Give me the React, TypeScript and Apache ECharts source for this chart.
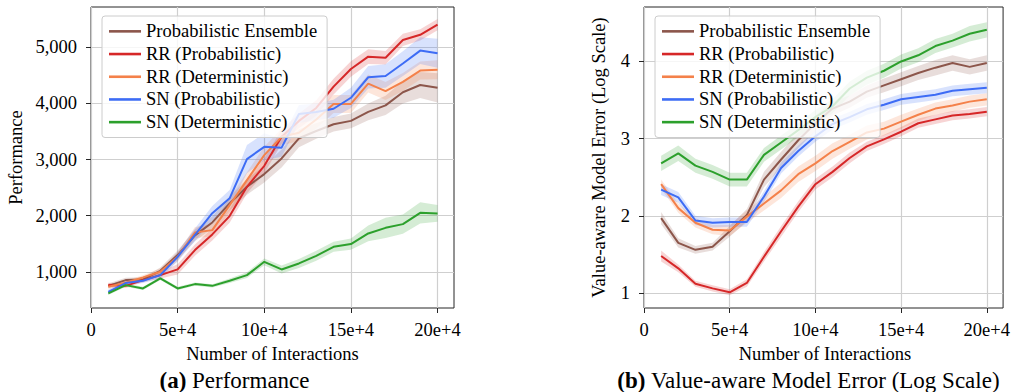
import React, { useEffect, useRef } from 'react';
import * as echarts from 'echarts';

const X = [10000, 20000, 30000, 40000, 50000, 60000, 70000, 80000, 90000, 100000, 110000, 120000, 130000, 140000, 150000, 160000, 170000, 180000, 190000, 200000];

const NAMES = ['Probabilistic Ensemble', 'RR (Probabilistic)', 'RR (Deterministic)', 'SN (Probabilistic)', 'SN (Deterministic)'];
const COLORS = ['#8c564b', '#d62728', '#f4814a', '#3d6cf5', '#2ca02c'];

// Performance (left)
const peL = [750, 852, 864, 1018, 1298, 1650, 1880, 2219, 2515, 2742, 3021, 3380, 3510, 3630, 3690, 3850, 3966, 4200, 4330, 4280];
const rrpL = [763, 750, 852, 941, 1043, 1387, 1667, 1993, 2515, 2889, 3406, 3690, 3920, 4300, 4615, 4835, 4815, 5133, 5225, 5405];
const rrdL = [733, 804, 900, 1000, 1267, 1700, 1743, 2189, 2635, 3080, 3406, 3480, 3716, 3992, 3992, 4355, 4221, 4385, 4587, 4600];
const snpL = [644, 800, 840, 941, 1267, 1660, 2045, 2310, 3009, 3228, 3213, 3813, 3850, 3906, 4102, 4468, 4491, 4712, 4943, 4895];
const sndL = [615, 763, 704, 882, 704, 781, 750, 840, 941, 1178, 1042, 1149, 1285, 1446, 1494, 1684, 1784, 1850, 2052, 2041];

const peLErr = [40, 40, 40, 60, 80, 100, 110, 120, 140, 150, 160, 160, 140, 130, 130, 150, 170, 200, 230, 260];
const rrpLErr = [40, 40, 40, 60, 90, 100, 110, 120, 120, 130, 130, 130, 140, 140, 140, 130, 120, 110, 100, 100];
const rrdLErr = [40, 40, 40, 60, 80, 100, 110, 130, 140, 150, 150, 150, 160, 160, 160, 160, 160, 160, 160, 170];
const snpLErr = [40, 40, 40, 60, 80, 110, 130, 150, 250, 240, 160, 160, 150, 160, 180, 200, 210, 220, 240, 260];
const sndLErr = [30, 30, 30, 30, 30, 30, 30, 40, 50, 60, 70, 80, 90, 90, 100, 140, 180, 170, 190, 150];

// Value-aware model error (right, log scale values)
const peR = [1.97, 1.65, 1.56, 1.6, 1.8, 2.01, 2.47, 2.73, 2.98, 3.2, 3.39, 3.48, 3.61, 3.69, 3.77, 3.85, 3.92, 3.98, 3.93, 3.98];
const rrpR = [1.48, 1.32, 1.12, 1.06, 1.01, 1.13, 1.47, 1.8, 2.12, 2.41, 2.57, 2.75, 2.9, 2.99, 3.09, 3.2, 3.25, 3.3, 3.32, 3.35];
const rrdR = [2.41, 2.1, 1.91, 1.82, 1.81, 1.99, 2.16, 2.33, 2.54, 2.68, 2.84, 2.96, 3.08, 3.13, 3.22, 3.31, 3.39, 3.43, 3.48, 3.51];
const snpR = [2.34, 2.24, 1.94, 1.91, 1.92, 1.92, 2.25, 2.62, 2.84, 3.03, 3.19, 3.28, 3.38, 3.44, 3.51, 3.54, 3.57, 3.62, 3.64, 3.66];
const sndR = [2.68, 2.81, 2.65, 2.57, 2.47, 2.47, 2.79, 2.95, 3.11, 3.28, 3.42, 3.65, 3.79, 3.88, 4.0, 4.08, 4.2, 4.27, 4.36, 4.41];

const peRErr = [0.08, 0.06, 0.05, 0.05, 0.07, 0.08, 0.1, 0.1, 0.1, 0.1, 0.09, 0.08, 0.08, 0.09, 0.09, 0.09, 0.1, 0.1, 0.1, 0.1];
const rrpRErr = [0.07, 0.05, 0.04, 0.04, 0.04, 0.05, 0.06, 0.07, 0.07, 0.07, 0.07, 0.07, 0.06, 0.06, 0.06, 0.06, 0.06, 0.06, 0.06, 0.06];
const rrdRErr = [0.06, 0.06, 0.06, 0.06, 0.07, 0.08, 0.09, 0.1, 0.1, 0.1, 0.1, 0.09, 0.09, 0.09, 0.09, 0.08, 0.08, 0.08, 0.08, 0.08];
const snpRErr = [0.07, 0.07, 0.06, 0.06, 0.06, 0.06, 0.07, 0.07, 0.07, 0.07, 0.07, 0.07, 0.07, 0.07, 0.07, 0.07, 0.07, 0.07, 0.07, 0.07];
const sndRErr = [0.1, 0.1, 0.09, 0.09, 0.09, 0.09, 0.09, 0.09, 0.09, 0.09, 0.09, 0.09, 0.09, 0.09, 0.09, 0.09, 0.09, 0.09, 0.1, 0.1];

const X_TICKS = [0, 50000, 100000, 150000, 200000];
const YL_TICKS = [1000, 2000, 3000, 4000, 5000];
const YR_TICKS = [1, 2, 3, 4];

const FONT = "'Liberation Serif', 'Times New Roman', serif";
const FS = 18.5;
const CAP = 23;

function rgba(hex: string, a: number) {
  const n = parseInt(hex.slice(1), 16);
  return `rgba(${(n >> 16) & 255},${(n >> 8) & 255},${n & 255},${a})`;
}

function bandSeries(g: number, color: string, v: number[], e: number[]) {
  return {
    type: 'custom',
    xAxisIndex: g,
    yAxisIndex: g,
    silent: true,
    z: 1,
    clip: true,
    data: [[X[0], v[0]]],
    renderItem: (_p: any, api: any) => {
      const up = X.map((x, i) => api.coord([x, v[i] + e[i]]));
      const lo = X.map((x, i) => api.coord([x, v[i] - e[i]])).reverse();
      return { type: 'polygon', shape: { points: up.concat(lo) }, style: { fill: rgba(color, 0.2) } };
    },
  };
}

function lineSeries(g: number, name: string, color: string, v: number[]) {
  return {
    type: 'line',
    name,
    xAxisIndex: g,
    yAxisIndex: g,
    z: 3,
    symbol: 'none',
    silent: true,
    data: X.map((x, i) => [x, v[i]]),
    lineStyle: { color, width: 2 },
    itemStyle: { color },
  };
}

const fmtThousands = (v: number) => {
  const s = String(Math.round(v));
  return s.replace(/\B(?=(\d{3})+(?!\d))/g, ',');
};
const fmtX = (v: number) => (v === 0 ? '0' : `${v / 10000}e+4`);

function xAxis(g: number) {
  return {
    type: 'value',
    gridIndex: g,
    min: 0,
    max: 209500,
    axisLine: { show: false },
    axisTick: { show: true, inside: false, length: 5, customValues: X_TICKS, lineStyle: { color: '#262626', width: 1 } },
    axisLabel: { customValues: X_TICKS, formatter: fmtX, margin: 12, color: '#000', fontFamily: FONT, fontSize: FS },
    splitLine: { show: true, lineStyle: { color: '#cfcfcf', width: 1.2 } },
  };
}

function yAxis(g: number, min: number, max: number, ticks: number[], fmt: (v: number) => string) {
  return {
    type: 'value',
    gridIndex: g,
    min,
    max,
    axisLine: { show: false },
    axisTick: { show: true, inside: false, length: 5, customValues: ticks, lineStyle: { color: '#262626', width: 1 } },
    axisLabel: { customValues: ticks, formatter: fmt, margin: 14, color: '#000', fontFamily: FONT, fontSize: FS },
    splitLine: { show: true, lineStyle: { color: '#cfcfcf', width: 1.2 } },
  };
}

function legend(left: number) {
  return {
    data: NAMES.map((n) => ({ name: n, icon: 'rect' })),
    left,
    top: 16,
    orient: 'vertical',
    itemWidth: 32,
    itemHeight: 2.6,
    itemGap: 0,
    padding: [4, 10, 4, 7],
    backgroundColor: 'rgba(255,255,255,0.8)',
    borderColor: '#cccccc',
    borderWidth: 1,
    borderRadius: 3,
    selectedMode: false,
    textStyle: { fontFamily: FONT, fontSize: FS, color: '#000', lineHeight: 22.7 },
  };
}

function text(x: number, y: number, t: string, size: number, rotation = 0, rich?: any) {
  return {
    type: 'text',
    x,
    y,
    rotation,
    silent: true,
    style: {
      text: t,
      fill: '#000',
      fontFamily: FONT,
      fontSize: size,
      textAlign: 'center',
      textVerticalAlign: 'middle',
      rich,
    },
  };
}

export default function App() {
  const ref = useRef<HTMLDivElement>(null);
  useEffect(() => {
    if (!ref.current) return;
    const chart = echarts.init(ref.current, undefined, { renderer: 'svg' });
    const left = [peL, rrpL, rrdL, snpL, sndL];
    const leftErr = [peLErr, rrpLErr, rrdLErr, snpLErr, sndLErr];
    const right = [peR, rrpR, rrdR, snpR, sndR];
    const rightErr = [peRErr, rrpRErr, rrdRErr, snpRErr, sndRErr];
    const series: any[] = [];
    NAMES.forEach((n, i) => {
      series.push(bandSeries(0, COLORS[i], left[i], leftErr[i]));
      series.push(bandSeries(1, COLORS[i], right[i], rightErr[i]));
    });
    NAMES.forEach((n, i) => {
      series.push(lineSeries(0, n, COLORS[i], left[i]));
      series.push(lineSeries(1, n, COLORS[i], right[i]));
    });
    const capRich = { b: { fontWeight: 'bold', fontSize: CAP, fontFamily: FONT } };
    chart.setOption({
      animation: false,
      backgroundColor: '#fff',
      textStyle: { fontFamily: FONT },
      grid: [
        { left: 91, right: 559, top: 7, bottom: 84, show: true, borderColor: '#262626', borderWidth: 1, backgroundColor: 'transparent', containLabel: false },
        { left: 644, right: 7, top: 7, bottom: 84, show: true, borderColor: '#262626', borderWidth: 1, backgroundColor: 'transparent', containLabel: false },
      ],
      xAxis: [xAxis(0), xAxis(1)],
      yAxis: [
        yAxis(0, 355, 5720, YL_TICKS, fmtThousands),
        yAxis(1, 0.806, 4.706, YR_TICKS, (v: number) => String(v)),
      ],
      legend: [legend(102), legend(655)],
      series,
      graphic: [
        text(15.5, 157.5, 'Performance', FS, Math.PI / 2),
        text(599, 157.5, 'Value-aware Model Error (Log Scale)', FS, Math.PI / 2),
        text(272.5, 354, 'Number of Interactions', FS),
        text(825, 354, 'Number of Interactions', FS),
        text(234.5, 380, '{b|(a)} Performance', CAP, 0, capRich),
        text(808.5, 380, '{b|(b)} Value-aware Model Error (Log Scale)', CAP, 0, capRich),
      ],
    });
    return () => chart.dispose();
  }, []);
  return <div ref={ref} style={{ position: 'fixed', left: 0, top: 0, width: 1013, height: 392 }} />;
}
